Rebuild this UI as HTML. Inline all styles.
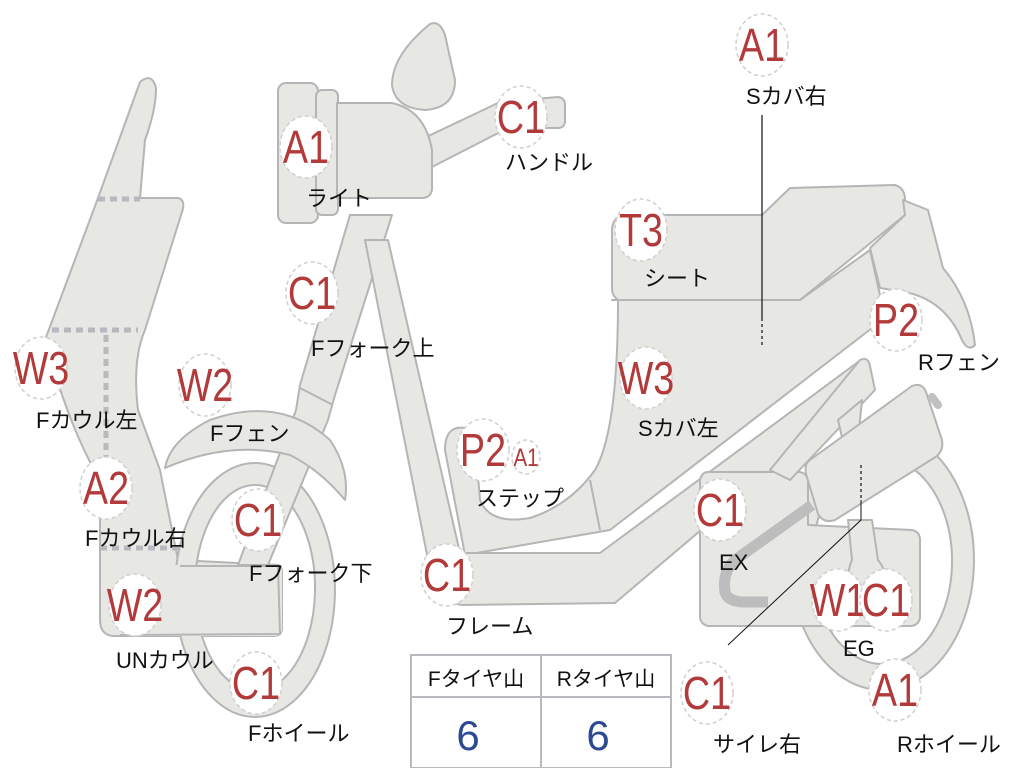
<!DOCTYPE html>
<html><head><meta charset="utf-8"><style>
html,body{margin:0;padding:0;background:#fff}
svg{display:block}
.s{fill:#e7e7e4;stroke:#b5b5b5;stroke-width:2;stroke-linejoin:round}
.l{font-family:"Liberation Sans","Noto Sans CJK JP",sans-serif;font-size:22px;fill:#111}
.b ellipse{fill:#fff;stroke:#cfcfcf;stroke-width:1.5;stroke-dasharray:4 3}
.b text{font-family:"Liberation Sans",sans-serif;font-size:46px;fill:#b23a3a;text-anchor:middle}
</style></head><body>
<svg width="1024" height="768" viewBox="0 0 1024 768" xmlns="http://www.w3.org/2000/svg">
<!-- front cowl -->
<path class="s" d="M140,82 Q152,72 156,88 Q156,110 145,140 L140,198 L178,198 Q186,200 182,212 L145,330 Q132,360 138,410 L160,470 L178,560 L278,565 Q282,566 282,572 L282,630 Q280,636 274,636 L112,636 Q100,634 100,620 L100,480 Q70,430 45,340 L98,198 Z"/>
<path d="M98,199 L140,199 M52,330 L138,330 M106,335 L106,470 M100,548 L180,548" stroke="#b8b9be" stroke-width="5" stroke-dasharray="7 5" fill="none"/>
<!-- front wheel -->
<path class="s" fill-rule="evenodd" d="M255,463 A80,127 0 1 1 254.9,463 Z M255,485 A60,103 0 1 0 255.1,485 Z"/>
<!-- fork -->
<path class="s" d="M350,215 L392,215 L335,395 L328,420 L268,565 L238,565 L296,410 L300,385 Z"/>
<path d="M300,388 L333,405" stroke="#b5b5b5" stroke-width="2"/>
<!-- front fender -->
<path class="s" d="M165,468 Q170,440 210,420 Q280,395 330,440 Q350,470 345,500 Q320,470 290,455 Q230,440 165,468 Z"/>
<path class="s" d="M178,565 L278,565 Q282,566 282,572 L282,630 Q280,636 274,636 L120,636 L112,620 L112,566 Z" style="stroke:none"/>
<path d="M180,566 L278,566 L280,634 L120,635" stroke="#b5b5b5" stroke-width="2" fill="none"/>
<!-- mirror -->
<path class="s" d="M430,24 Q440,20 445,35 L455,80 Q455,108 425,110 Q395,108 392,85 Q392,55 430,24 Z"/>
<!-- handlebar -->
<path class="s" d="M420,140 L500,102 L558,97 Q565,98 565,105 L565,122 Q564,128 558,128 L508,128 L430,168 Z"/>
<!-- headlight -->
<rect class="s" x="278" y="83" width="40" height="140" rx="8"/>
<rect class="s" x="316" y="90" width="22" height="125" rx="6"/>
<path class="s" d="M337,103 L392,103 Q425,110 432,150 L432,190 Q430,198 422,198 L337,198 Z"/>
<!-- seat -->
<path class="s" d="M625,215 L762,215 L790,188 L895,185 Q905,188 905,200 L905,215 L800,300 L625,302 Q612,300 612,288 L612,228 Q614,216 625,215 Z"/>
<!-- rear fender -->
<path class="s" d="M903,200 L928,210 L943,268 Q970,300 975,345 Q968,352 962,340 Q945,300 905,292 L880,288 L870,248 L905,215 Z"/>
<!-- S cover -->
<path class="s" d="M612,300 L800,300 L870,250 L885,318 L610,530 L465,555 L445,450 Q445,425 465,428 Q475,432 480,500 Q490,525 530,518 Q570,505 595,470 Q618,430 618,300 Z"/>
<path d="M590,480 L600,530" stroke="#b5b5b5" stroke-width="2"/>
<!-- frame -->
<path class="s" d="M365,240 L388,240 L460,553 L600,553 L858,362 L872,385 L615,603 L462,605 Q432,600 432,580 Z"/>
<!-- rear wheel -->
<path class="s" fill-rule="evenodd" d="M882,430 A92,130 0 1 1 881.9,430 Z M882,458 A70,103 0 1 0 882.1,458 Z"/>
<!-- engine -->
<path class="s" d="M708,472 L800,472 Q808,474 808,482 L808,525 L912,530 Q920,532 920,540 L920,618 Q918,626 910,626 L708,626 Q700,624 700,616 L700,480 Q702,472 708,472 Z"/>
<path class="s" d="M848,520 L872,520 L878,560 Q890,575 888,600 L850,600 Q845,575 852,560 Z"/>
<!-- upper bar -->
<path class="s" d="M770,470 L860,360 Q868,356 870,366 L875,390 L790,480 Z"/>
<path class="s" d="M838,420 L862,400 L858,440 L845,450 Z"/>
<!-- air box -->
<path class="s" d="M810,460 L912,386 Q922,382 926,392 L942,440 Q944,452 934,458 L835,520 Q824,524 818,514 L806,474 Q804,464 810,460 Z"/>
<path d="M932,397 L938,405" stroke="#c0c0c0" stroke-width="8" stroke-linecap="round"/>
<!-- exhaust -->
<path d="M812,505 L735,560 Q722,572 725,592 Q728,602 745,602 L768,602" stroke="#bdbdbd" stroke-width="11" fill="none"/>
<!-- leader lines -->
<path d="M762,115 L762,318" stroke="#111" stroke-width="1.2" fill="none"/>
<path d="M762,318 L762,345" stroke="#111" stroke-width="1.2" stroke-dasharray="3 3" fill="none"/>
<path d="M861,465 L861,500" stroke="#111" stroke-width="1.2" stroke-dasharray="3 3" fill="none"/>
<path d="M861,500 L861,520 L728,645" stroke="#111" stroke-width="1" fill="none"/>
<!-- table -->
<g>
<rect x="411" y="655" width="260" height="113" fill="#fff" stroke="#b8b9be" stroke-width="2"/>
<line x1="411" y1="697" x2="671" y2="697" stroke="#b8b9be" stroke-width="2"/>
<line x1="541" y1="655" x2="541" y2="768" stroke="#b8b9be" stroke-width="2"/>
<text class="l" x="476" y="686" text-anchor="middle" style="font-size:21px">Fタイヤ山</text>
<text class="l" x="606" y="686" text-anchor="middle" style="font-size:21px">Rタイヤ山</text>
<text x="468" y="750" text-anchor="middle" style="font-family:'Liberation Sans',sans-serif;font-size:42px;fill:#2b4a92">6</text>
<text x="598" y="750" text-anchor="middle" style="font-family:'Liberation Sans',sans-serif;font-size:42px;fill:#2b4a92">6</text>
</g>
<!-- badges -->
<g class="b">
<g transform="translate(762,45)"><ellipse rx="26" ry="31"/><text y="16" transform="scale(0.82,1)">A1</text></g>
<g transform="translate(521,117)"><ellipse rx="26" ry="31"/><text y="16" transform="scale(0.82,1)">C1</text></g>
<g transform="translate(306,147)"><ellipse rx="26" ry="31"/><text y="16" transform="scale(0.82,1)">A1</text></g>
<g transform="translate(641,230)"><ellipse rx="26" ry="31"/><text y="16" transform="scale(0.82,1)">T3</text></g>
<g transform="translate(312,293)"><ellipse rx="26" ry="31"/><text y="16" transform="scale(0.82,1)">C1</text></g>
<g transform="translate(896,320)"><ellipse rx="26" ry="31"/><text y="16" transform="scale(0.82,1)">P2</text></g>
<g transform="translate(41,368)"><ellipse rx="26" ry="31"/><text y="16" transform="scale(0.82,1)">W3</text></g>
<g transform="translate(205,385)"><ellipse rx="26" ry="31"/><text y="16" transform="scale(0.82,1)">W2</text></g>
<g transform="translate(646,378)"><ellipse rx="26" ry="31"/><text y="16" transform="scale(0.82,1)">W3</text></g>
<g transform="translate(483,450)"><ellipse rx="26" ry="31"/><text y="16" transform="scale(0.82,1)">P2</text></g>
<g transform="translate(526,457)"><ellipse rx="14" ry="17"/><text y="9" style="font-size:25px" transform="scale(0.82,1)">A1</text></g>
<g transform="translate(106,488)"><ellipse rx="26" ry="31"/><text y="16" transform="scale(0.82,1)">A2</text></g>
<g transform="translate(258,520)"><ellipse rx="26" ry="31"/><text y="16" transform="scale(0.82,1)">C1</text></g>
<g transform="translate(720,510)"><ellipse rx="26" ry="31"/><text y="16" transform="scale(0.82,1)">C1</text></g>
<g transform="translate(447,575)"><ellipse rx="26" ry="31"/><text y="16" transform="scale(0.82,1)">C1</text></g>
<g transform="translate(135,605)"><ellipse rx="26" ry="31"/><text y="16" transform="scale(0.82,1)">W2</text></g>
<g transform="translate(838,600)"><ellipse rx="26" ry="31"/><text y="16" transform="scale(0.82,1)">W1</text></g>
<g transform="translate(886,600)"><ellipse rx="26" ry="31"/><text y="16" transform="scale(0.82,1)">C1</text></g>
<g transform="translate(256,683)"><ellipse rx="26" ry="31"/><text y="16" transform="scale(0.82,1)">C1</text></g>
<g transform="translate(707,693)"><ellipse rx="26" ry="31"/><text y="16" transform="scale(0.82,1)">C1</text></g>
<g transform="translate(895,690)"><ellipse rx="26" ry="31"/><text y="16" transform="scale(0.82,1)">A1</text></g>
</g>
<!-- labels -->
<g class="l">
<text x="746" y="104">Sカバ右</text>
<text x="505" y="170">ハンドル</text>
<text x="306" y="206">ライト</text>
<text x="644" y="286">シート</text>
<text x="311" y="356">Fフォーク上</text>
<text x="918" y="370">Rフェン</text>
<text x="36" y="428">Fカウル左</text>
<text x="210" y="441">Fフェン</text>
<text x="638" y="436">Sカバ左</text>
<text x="476" y="506">ステップ</text>
<text x="85" y="546">Fカウル右</text>
<text x="249" y="581">Fフォーク下</text>
<text x="719" y="570">EX</text>
<text x="446" y="634">フレーム</text>
<text x="116" y="668">UNカウル</text>
<text x="843" y="656">EG</text>
<text x="248" y="741">Fホイール</text>
<text x="713" y="752">サイレ右</text>
<text x="897" y="752">Rホイール</text>
</g>
</svg>
</body></html>
